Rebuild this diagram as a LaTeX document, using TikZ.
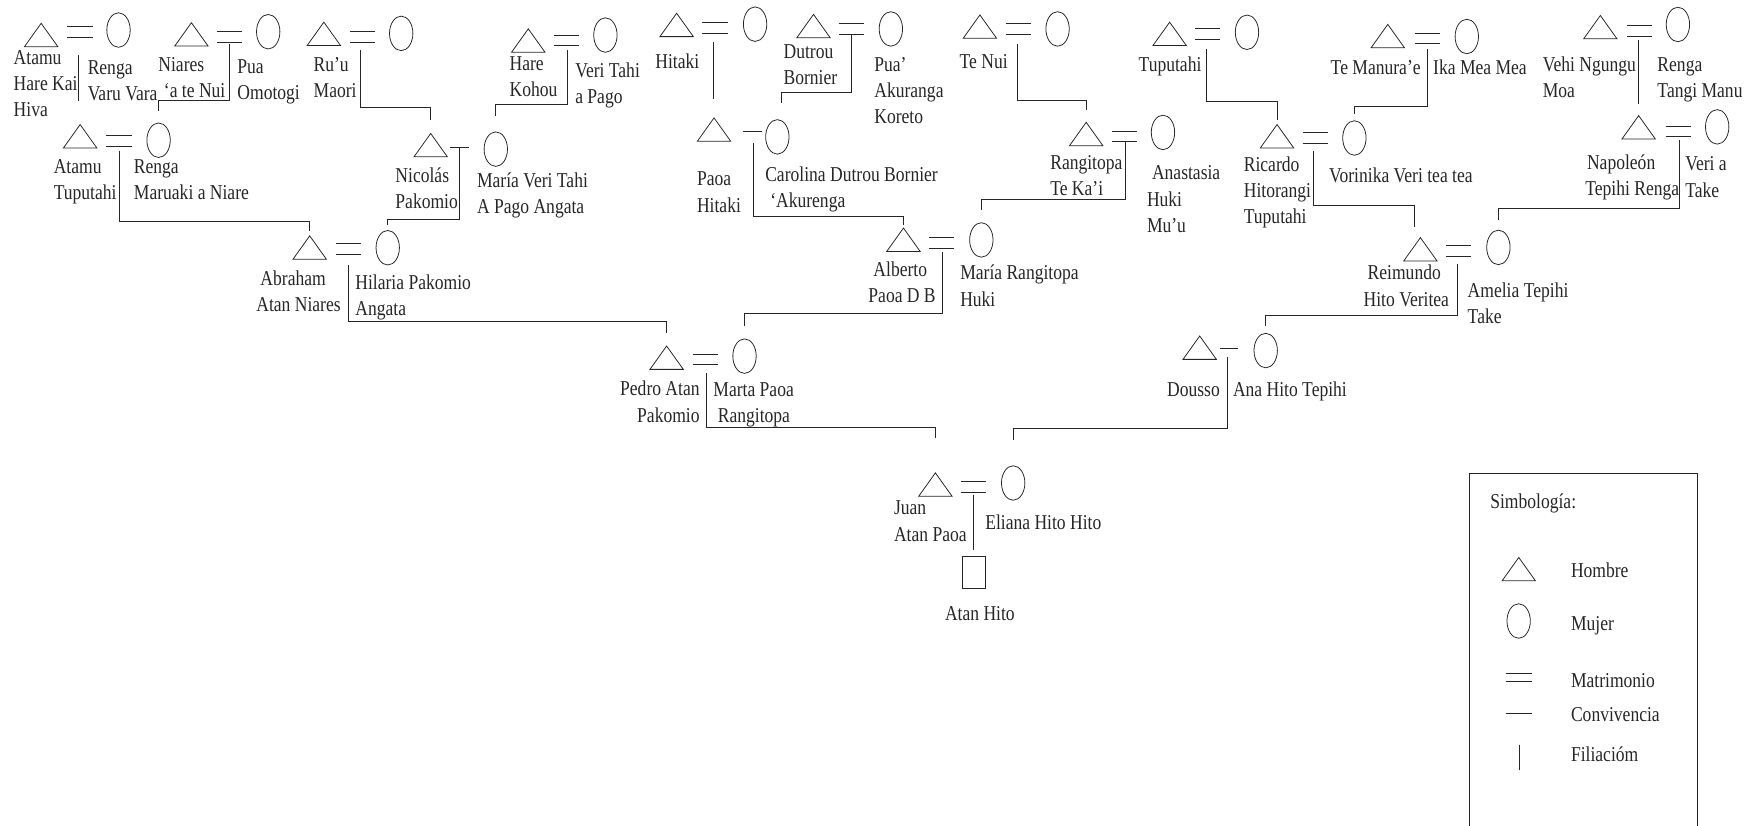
\documentclass[tikz,border=0pt]{standalone}
\usepackage{fontspec}
\setmainfont{Liberation Serif}[FakeStretch=0.83]
\usetikzlibrary{shapes.geometric}
\tikzset{
    man-sym/.style = {draw, isosceles triangle, isosceles triangle stretches, shape border rotate=90, minimum width=30pt, minimum height=21pt, inner sep=0pt, anchor=apex},
    woman-sym/.style = {draw, ellipse, minimum width=21pt, minimum height=31pt, inner sep=0pt},
    child-sym/.style = {draw, rectangle, minimum width=20pt, minimum height=28.5pt, inner sep=0pt},
    wed-sym/.style = {minimum width=22pt, minimum height=9pt, inner sep=0pt, append after command={(\tikzlastnode.north west) edge (\tikzlastnode.north east) (\tikzlastnode.south west) edge (\tikzlastnode.south east)}},
    live-sym/.style = {minimum width=16pt, minimum height=0pt, inner sep=0pt, append after command={(\tikzlastnode.west) edge (\tikzlastnode.east)}},
    kin-name/.style = {font=\fontsize{19}{23.5}\selectfont, align=left, anchor=base west, inner sep=0pt},
}

\begin{document}
\begin{tikzpicture}[x=1pt, y=-1pt, line width=0.7pt, color=black!85]
\useasboundingbox (0,0) rectangle (1568,742);

\node [man-sym] (atamuH) at (37,20) {};
\node [wed-sym] (eq-atamuH) at (72,28.5) {};
\node [woman-sym] (rengaV) at (106.5,27) {};
\node [kin-name] (n-atamuH) at (12,105) {Atamu\\Hare Kai\\Hiva};
\node [kin-name] (n-rengaV) at (78.5,90.5) {Renga\\Varu Vara};

\node [man-sym] (niares) at (172,19.5) {};
\node [wed-sym] (eq-niares) at (206.5,33) {};
\node [woman-sym] (pua) at (241,28.5) {};
\node [kin-name] (n-niares) at (142,87.5) {Niares\\\hspace*{5pt}‘a te Nui};
\node [kin-name] (n-pua) at (213,89.5) {Pua\\Omotogi};

\node [man-sym] (ruu) at (291,19) {};
\node [wed-sym] (eq-ruu) at (326,33.5) {};
\node [woman-sym] (ruuW) at (360.5,30) {};
\node [kin-name] (n-ruu) at (281.5,87.5) {Ru’u\\Maori};

\node [man-sym] (hare) at (474.7,25) {};
\node [wed-sym] (eq-hare) at (509,36.3) {};
\node [woman-sym] (veriT) at (544,31.5) {};
\node [kin-name] (n-hare) at (457.6,87) {Hare\\Kohou};
\node [kin-name] (n-veriT) at (516.6,93) {Veri Tahi\\a Pago};

\node [man-sym] (atamuT) at (72,111) {};
\node [wed-sym] (eq-atamuT) at (107,126.5) {};
\node [woman-sym] (rengaM) at (142.5,126) {};
\node [kin-name] (n-atamuT) at (48,179.2) {Atamu\\Tuputahi};
\node [kin-name] (n-rengaM) at (120,179.2) {Renga\\Maruaki a Niare};

\node [man-sym] (nicolas) at (387,119) {};
\node [live-sym] (live-nicolas) at (413,132) {};
\node [woman-sym] (maria) at (445.5,134) {};
\node [kin-name] (n-nicolas) at (355,187.5) {Nicolás\\Pakomio};
\node [kin-name] (n-maria) at (428.3,191.8) {María Veri Tahi\\A Pago Angata};

\node [man-sym] (abraham) at (278.3,211) {};
\node [wed-sym] (eq-abraham) at (313,223.5) {};
\node [woman-sym] (hilaria) at (348.4,222.6) {};
\node [kin-name] (n-abraham) at (230,279.9) {\hspace*{3.7pt}Abraham\\Atan Niares};
\node [kin-name] (n-hilaria) at (319,283.5) {Hilaria Pakomio\\Angata};

\node [man-sym] (hitaki) at (608,11) {};
\node [wed-sym] (eq-hitaki) at (642.4,25) {};
\node [woman-sym] (hitakiW) at (678.5,21.7) {};
\node [kin-name] (n-hitaki) at (588.5,61.4) {Hitaki};

\node [man-sym] (dutrou) at (731,12) {};
\node [wed-sym] (eq-dutrou) at (765.2,26) {};
\node [woman-sym] (puaA) at (800.5,26) {};
\node [kin-name] (n-dutrou) at (703.8,75.9) {Dutrou\\Bornier};
\node [kin-name] (n-puaA) at (785.3,110.8) {Pua’\\Akuranga\\Koreto};

\node [man-sym] (paoa) at (641.6,105) {};
\node [live-sym] (live-paoa) at (676,118.3) {};
\node [woman-sym] (carolina) at (698.5,123) {};
\node [kin-name] (n-paoa) at (626,190.5) {Paoa\\Hitaki};
\node [kin-name] (n-carolina) at (687.3,186.7) {Carolina Dutrou Bornier\\\hspace*{4.5pt}‘Akurenga};

\node [man-sym] (tenui) at (880.5,12.5) {};
\node [wed-sym] (eq-tenui) at (915,26) {};
\node [woman-sym] (tenuiW) at (950.3,26) {};
\node [kin-name] (n-tenui) at (862,61.4) {Te Nui};

\node [man-sym] (rangitopa) at (976,109) {};
\node [wed-sym] (eq-rangitopa) at (1010.5,122.5) {};
\node [woman-sym] (anastasia) at (1045,119) {};
\node [kin-name] (n-rangitopa) at (943.4,175.5) {Rangitopa\\Te Ka’i};
\node [kin-name] (n-anastasia) at (1030.3,208.7) {\hspace*{4.5pt}Anastasia\\Huki\\Mu’u};

\node [man-sym] (alberto) at (811.8,204) {};
\node [wed-sym] (eq-alberto) at (846.2,218.3) {};
\node [woman-sym] (mariaR) at (881.8,215.6) {};
\node [kin-name] (n-alberto) at (780,272.1) {\hspace*{4.5pt}Alberto\\Paoa D B};
\node [kin-name] (n-mariaR) at (862.5,275) {María Rangitopa\\Huki};

\node [man-sym] (pedro) at (599,310) {};
\node [wed-sym] (eq-pedro) at (633.8,323) {};
\node [woman-sym] (marta) at (669,320) {};
\node [kin-name, align=right, anchor=base east] (n-pedro) at (629,379.3) {Pedro Atan\\Pakomio};
\node [kin-name] (n-marta) at (640.7,379.9) {Marta Paoa\\\hspace*{4pt}Rangitopa};

\node [man-sym] (tuputahi) at (1051,19) {};
\node [wed-sym] (eq-tuputahi) at (1085,30.3) {};
\node [woman-sym] (tuputahiW) at (1120.5,29) {};
\node [kin-name] (n-tuputahi) at (1022.8,63.8) {Tuputahi};

\node [man-sym] (manurae) at (1247,21) {};
\node [wed-sym] (eq-manurae) at (1282.5,34.5) {};
\node [woman-sym] (ika) at (1318,32.8) {};
\node [kin-name] (n-manurae) at (1195.4,67) {Te Manura’e};
\node [kin-name] (n-ika) at (1287.5,67) {Ika Mea Mea};

\node [man-sym] (ricardo) at (1147.5,111) {};
\node [wed-sym] (eq-ricardo) at (1182,124) {};
\node [woman-sym] (vorinika) at (1217,124) {};
\node [kin-name] (n-ricardo) at (1117.3,201) {Ricardo\\Hitorangi\\Tuputahi};
\node [kin-name] (n-vorinika) at (1194,164) {Vorinika Veri tea tea};

\node [man-sym] (vehi) at (1438,13) {};
\node [wed-sym] (eq-vehi) at (1473.4,27.4) {};
\node [woman-sym] (rengaT) at (1507.7,22) {};
\node [kin-name] (n-vehi) at (1386,87.5) {Vehi Ngungu\\Moa};
\node [kin-name] (n-rengaT) at (1489,87.5) {Renga\\Tangi Manu};

\node [man-sym] (napoleon) at (1472.4,103) {};
\node [wed-sym] (eq-napoleon) at (1508,118) {};
\node [woman-sym] (veriA) at (1543,114) {};
\node [kin-name] (n-napoleon) at (1424.2,175.5) {\hspace*{1.5pt}Napoleón\\Tepihi Renga};
\node [kin-name] (n-veriA) at (1514,177.1) {Veri a\\Take};

\node [man-sym] (reimundo) at (1276.3,212.6) {};
\node [wed-sym] (eq-reimundo) at (1310.8,225.4) {};
\node [woman-sym] (amelia) at (1346.4,222.3) {};
\node [kin-name] (n-reimundo) at (1225,275) {\hspace*{3.6pt}Reimundo\\Hito Veritea};
\node [kin-name] (n-amelia) at (1318.5,290.5) {Amelia Tepihi\\Take};

\node [man-sym] (dousso) at (1078,301) {};
\node [live-sym] (live-dousso) at (1104.5,313) {};
\node [woman-sym] (ana) at (1137.3,315) {};
\node [kin-name] (n-dousso) at (1048.4,356.5) {Dousso};
\node [kin-name] (n-ana) at (1107.6,356.5) {Ana Hito Tepihi};

\node [man-sym] (juan) at (840.5,424) {};
\node [wed-sym] (eq-juan) at (875,437.3) {};
\node [woman-sym] (eliana) at (910.4,434) {};
\node [kin-name] (n-juan) at (803,486.2) {Juan\\Atan Paoa};
\node [kin-name] (n-eliana) at (885,475.6) {Eliana Hito Hito};
\node [child-sym] (atan) at (875,514) {};
\node [kin-name] (n-atan) at (848.8,558) {Atan Hito};

\draw (eq-atamuH.south) ++(-2,16) -- ++(0,41);
\draw (eq-niares.south) ++(-0.5,1.5) -- ++(0,51) -| ([yshift=10.5pt]rengaM.north);
\draw (eq-ruu.south) ++(-2,7) -- ++(0,51) -| ([yshift=11pt]nicolas.apex);
\draw (eq-hare.south) ++(1,4) -- ++(0,49) -| ([yshift=13.5pt]maria.north);
\draw (live-nicolas.center) -- ++(0,65) -| ([yshift=5pt]hilaria.north);
\draw (eq-atamuT.south) ++(0,4) -- ++(0,64) -| ([yshift=3pt]abraham.apex);
\draw (eq-abraham.south) ++(0,10) -- ++(0,50) -| ([yshift=10.5pt]pedro.apex);
\draw (eq-hitaki.south) ++(-1,8) -- ++(0,51);
\draw (eq-dutrou.south) ++(0,0.5) -- ++(0,51.4) -| ([xshift=4pt,yshift=14.5pt]carolina.north);
\draw (live-paoa.center) ++(1,10.5) -- ++(0,65.2) -| ([yshift=2pt]alberto.apex);
\draw (eq-tenui.south) ++(-1,9) -- ++(0,50.5) -| ([yshift=10pt]rangitopa.apex);
\draw (eq-rangitopa.south) ++(0.3,0) -- ++(0,52) -| ([yshift=11.4pt]mariaR.north);
\draw (eq-alberto.south) ++(0.2,3.2) -- ++(0,55) -| ([yshift=11.5pt]marta.north);
\draw (eq-pedro.south) ++(1,7.5) -- ++(0,49) -| ([yshift=30pt]juan.apex);
\draw (eq-tuputahi.south) ++(-0.8,8.6) -- ++(0,47.6) -| ([yshift=3pt]ricardo.apex);
\draw (eq-manurae.south) ++(0.4,4.7) -- ++(0,51.6) -| ([yshift=5.5pt]vorinika.north);
\draw (eq-ricardo.south) ++(-2,6.5) -- ++(0,49.2) -| ([xshift=-5pt,yshift=9pt]reimundo.apex);
\draw (eq-vehi.south) ++(-1,4) -- ([yshift=10pt]napoleon.apex);
\draw (eq-napoleon.south) ++(0.7,3.3) -- ++(0,61.4) -| ([yshift=8.5pt]amelia.north);
\draw (eq-reimundo.south) ++(-1,6.7) -- ++(0,46.4) -| ([yshift=6.5pt]ana.north);
\draw (live-dousso.center) ++(-2,7.5) -- ++(0,64.5) -| ([yshift=23pt]eliana.north);
\draw (eq-juan.south) ++(0,2.2) -- ([yshift=5pt]atan.north);

\draw (1320.3,742) |- (1525.1,425.3) -- (1525.1,742);
\node [kin-name] (n-legend) at (1338.8,456.7) {Simbología:};
\node [man-sym] (key-man) at (1364.7,500) {};
\node [kin-name] (n-key-man) at (1411.3,518.5) {Hombre};
\node [woman-sym] (key-woman) at (1364.6,558) {};
\node [kin-name] (n-key-woman) at (1411.3,566.5) {Mujer};
\node [wed-sym, minimum width=23pt, minimum height=7pt] (key-wed) at (1364.8,608.5) {};
\node [kin-name] (n-key-wed) at (1411.3,617.9) {Matrimonio};
\node [live-sym, minimum width=23pt] (key-live) at (1364.8,641) {};
\node [kin-name] (n-key-live) at (1411.3,648.5) {Convivencia};
\coordinate (key-kin) at (1364.9,669);
\draw (key-kin) -- ++(0,23);
\node [kin-name] (n-key-kin) at (1411.3,684.5) {Filiacióm};
\end{tikzpicture}
\end{document}
